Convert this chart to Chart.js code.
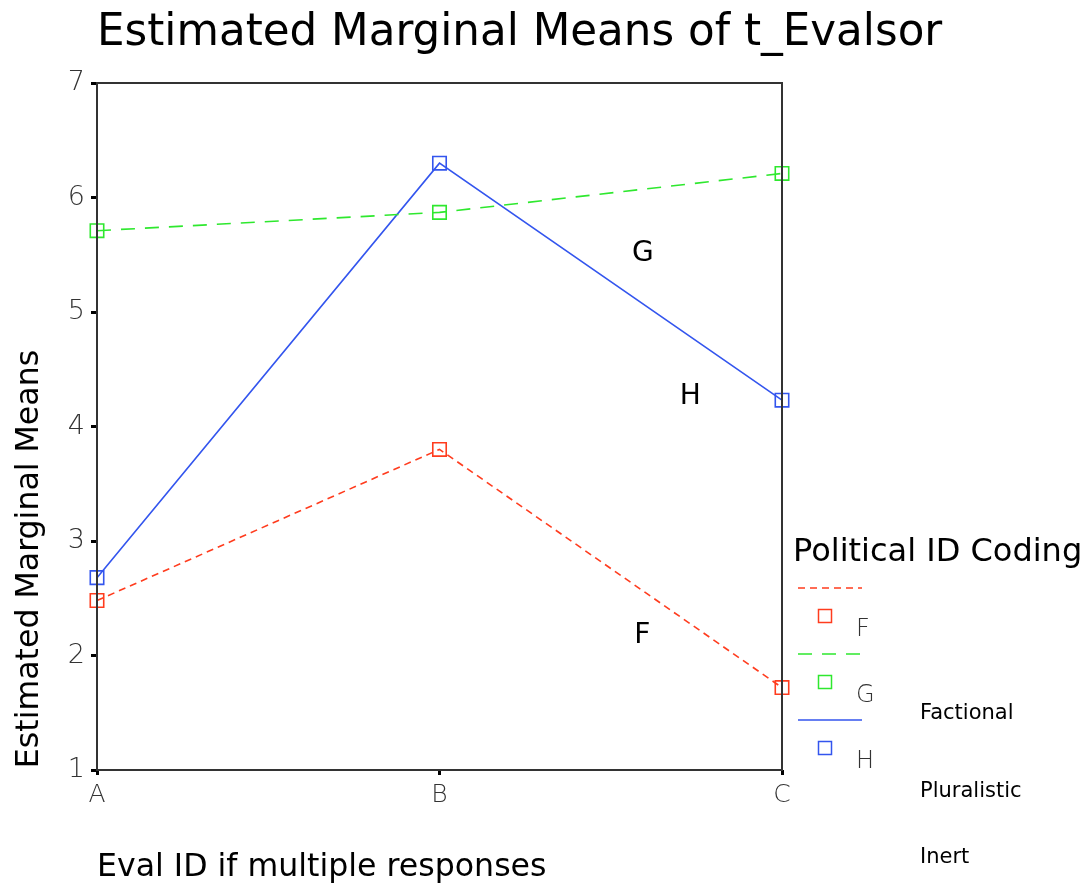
<!DOCTYPE html>
<html>
<head>
<meta charset="utf-8">
<script src="https://cdn.jsdelivr.net/npm/chart.js@4.4.1/dist/chart.umd.min.js"></script>
<style>
  html, body { margin: 0; padding: 0; background: #fff; }
  #wrap { width: 1091px; height: 890px; }
</style>
</head>
<body>
<div id="wrap"><canvas id="myChart" width="1091" height="890"></canvas></div>
<script>
// values
const categories = ['A', 'B', 'C'];
const factional = [2.48, 3.80, 1.72];   // F
const pluralistic = [5.71, 5.87, 6.21]; // G
const inert = [2.68, 6.30, 4.23];       // H
const seriesNames = ['F', 'G', 'H'];
const groupNames = ['Factional', 'Pluralistic', 'Inert'];
const yTicks = [1, 2, 3, 4, 5, 6, 7];

const colors = ['#ff3c1e', '#2ee82e', '#3355ee'];
const dashes = [[7, 5], [14, 10], []];
const FONT = '"DejaVu Sans", Verdana, sans-serif';

// titles, box, in-plot labels and legend
const decor = {
  id: 'decor',
  afterDraw(chart) {
    const { ctx, chartArea: a } = chart;
    ctx.save();
    ctx.strokeStyle = '#333';
    ctx.lineWidth = 2;
    ctx.strokeRect(a.left, a.top, a.right - a.left, a.bottom - a.top);

    ctx.fillStyle = '#000';
    ctx.textBaseline = 'middle';
    ctx.textAlign = 'left';
    ctx.font = '43.6px ' + FONT;
    ctx.fillText('Estimated Marginal Means of t_Evalsor', 97, 34);

    ctx.font = '31.6px ' + FONT;
    ctx.fillText('Eval ID if multiple responses', 97, 868);

    ctx.save();
    ctx.translate(30, 559);
    ctx.rotate(-Math.PI / 2);
    ctx.textAlign = 'center';
    ctx.fillText('Estimated Marginal Means', 0, 0);
    ctx.restore();

    // in-plot series labels
    const w = a.right - a.left;
    const ys = chart.scales.y;
    ctx.textAlign = 'center';
    ctx.font = '28px ' + FONT;
    const inPlot = [[0.796, 2.17], [0.797, 5.51], [0.866, 4.26]];
    inPlot.forEach((p, i) => {
      ctx.fillText(seriesNames[i], a.left + p[0] * w, ys.getPixelForValue(p[1]));
    });

    // legend
    ctx.textAlign = 'left';
    ctx.font = '32px ' + FONT;
    ctx.fillText('Political ID Coding', 793, 553);
    for (let i = 0; i < 3; i++) {
      const y0 = 588 + i * 66;
      ctx.strokeStyle = colors[i];
      ctx.lineWidth = 1.5;
      ctx.setLineDash(dashes[i]);
      ctx.beginPath();
      ctx.moveTo(798, y0);
      ctx.lineTo(862, y0);
      ctx.stroke();
      ctx.setLineDash([]);
      ctx.strokeRect(818.5, y0 + 21.5, 13, 13);
      ctx.fillStyle = '#333';
      ctx.font = '300 24px ' + FONT;
      ctx.fillText(seriesNames[i], 856, y0 + 42);
    }
    ctx.fillStyle = '#000';
    ctx.font = '21px ' + FONT;
    groupNames.forEach((g, i) => {
      ctx.fillText(g, 920, [714, 792, 858][i]);
    });
    ctx.restore();
  }
};

const ctx = document.getElementById('myChart');

new Chart(ctx, {
  type: 'line',
  data: {
    labels: categories,
    datasets: [factional, pluralistic, inert].map((d, i) => ({
      label: seriesNames[i],
      data: d,
      borderColor: colors[i],
      borderWidth: 1.6,
      borderDash: dashes[i],
      pointStyle: 'rect',
      pointRadius: 9.5,
      pointBorderWidth: 1.6,
      pointBorderColor: colors[i],
      pointBackgroundColor: 'rgba(0,0,0,0)',
      tension: 0
    }))
  },
  options: {
    responsive: false,
    animation: false,
    layout: { padding: { top: 83, right: 309, bottom: 0, left: 0 } },
    plugins: { legend: { display: false }, title: { display: false }, tooltip: { enabled: false } },
    scales: {
      x: {
        offset: false,
        afterFit(scale) { scale.height = 120; },
        grid: { drawOnChartArea: false, color: '#000', tickLength: 5, tickWidth: 3 },
        border: { display: false },
        ticks: { color: '#333', font: { family: FONT, size: 25, weight: 300 }, padding: 5 }
      },
      y: {
        min: 1,
        max: 7,
        afterFit(scale) { scale.width = 97; },
        afterBuildTicks(scale) { scale.ticks = yTicks.map(v => ({ value: v })); },
        grid: { drawOnChartArea: false, color: '#000', tickLength: 6, tickWidth: 3 },
        border: { display: false },
        ticks: { color: '#333', font: { family: FONT, size: 27, weight: 300 }, padding: 6 }
      }
    }
  },
  plugins: [decor]
});
</script>
</body>
</html>
